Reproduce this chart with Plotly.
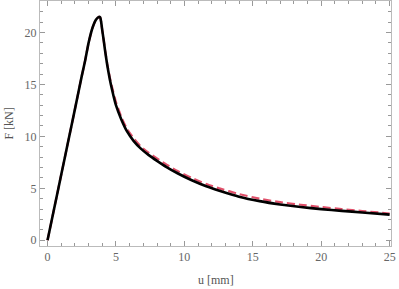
import plotly.graph_objects as go

# Displacement u [mm] and force F [kN]
u_black = [0, 0.5, 1.0, 1.5, 2.0, 2.5, 2.75, 3.0, 3.3, 3.55, 3.75, 3.85, 3.92, 4.0, 4.1, 4.2,
           4.36, 4.55, 4.75, 5.0, 5.4, 5.8, 6.3, 6.8, 7.4, 8.0, 8.7, 9.5, 10.5, 11.6, 12.5,
           14.0, 15.5, 17.0, 18.5, 20.0, 21.5, 23.0, 25.0]
F_black = [0, 3.15, 6.3, 9.45, 12.6, 15.8, 17.3, 19.0, 20.5, 21.25, 21.5, 21.45, 21.0, 20.2, 19.3, 18.3,
           16.9, 15.5, 14.3, 13.0, 11.6, 10.5, 9.55, 8.85, 8.2, 7.65, 7.05, 6.45, 5.8, 5.2, 4.8,
           4.2, 3.77, 3.45, 3.2, 3.0, 2.83, 2.68, 2.47]

u_red = [0, 0.5, 1.0, 1.5, 2.0, 2.5, 2.75, 3.0, 3.3, 3.55, 3.75, 3.85, 3.92, 4.0, 4.1, 4.2,
         4.36, 4.55, 4.75, 5.0, 5.4, 5.8, 6.3, 6.8, 7.4, 8.0, 8.7, 9.5, 10.5, 11.6, 12.5,
         14.0, 15.5, 17.0, 18.5, 20.0, 21.5, 23.0, 25.0]
F_red = [0, 3.15, 6.3, 9.45, 12.6, 15.8, 17.3, 19.0, 20.5, 21.25, 21.5, 21.45, 21.0, 20.2, 19.3, 18.35,
         17.0, 15.7, 14.55, 13.3, 11.85, 10.75, 9.8, 9.05, 8.4, 7.88, 7.28, 6.67, 6.02, 5.42, 5.02,
         4.45, 4.0, 3.67, 3.42, 3.2, 3.0, 2.82, 2.58]

x_ticks = [0, 5, 10, 15, 20, 25]
y_ticks = [0, 5, 10, 15, 20]

fig = go.Figure()
fig.add_trace(go.Scatter(x=u_red, y=F_red, mode="lines",
                         line=dict(color="#e0506a", width=2.2, dash="8px,4px", shape="spline", smoothing=0.5),
                         showlegend=False))
fig.add_trace(go.Scatter(x=u_black, y=F_black, mode="lines",
                         line=dict(color="black", width=2.6, shape="spline", smoothing=0.5),
                         showlegend=False))

tickfont = dict(family="Liberation Serif", size=12, color="#666666")
axis_common = dict(showgrid=False, zeroline=False, showline=True, linecolor="#bbbbbb",
                   linewidth=1, mirror="allticks", ticks="inside", ticklen=5,
                   tickcolor="#999999", tickwidth=1, tickfont=tickfont, automargin=False,
                   minor=dict(ticks="inside", ticklen=3, dtick=1, tickcolor="#999999", tickwidth=1))

fig.update_xaxes(range=[-0.55, 25.1], tickvals=x_ticks, **axis_common)
fig.update_yaxes(range=[-0.55, 23.03], tickvals=y_ticks, **axis_common)

fig.update_layout(
    width=399, height=289,
    margin=dict(l=39.5, r=8, t=0.5, b=43.3, pad=0),
    paper_bgcolor="white", plot_bgcolor="white",
    annotations=[
        dict(text="u [mm]", xref="paper", yref="paper", x=0.5, y=-0.14,
             xanchor="center", yanchor="middle", showarrow=False,
             font=dict(family="Liberation Serif", size=12, color="#555555")),
        dict(text="F [kN]", xref="paper", yref="paper", x=-0.091, y=0.5,
             xanchor="center", yanchor="middle", showarrow=False, textangle=-90,
             font=dict(family="Liberation Serif", size=12, color="#555555")),
    ],
)

fig.write_html("out.html", config={"displayModeBar": False},
               post_script="document.body.style.margin='0';document.body.style.overflow='hidden';")
